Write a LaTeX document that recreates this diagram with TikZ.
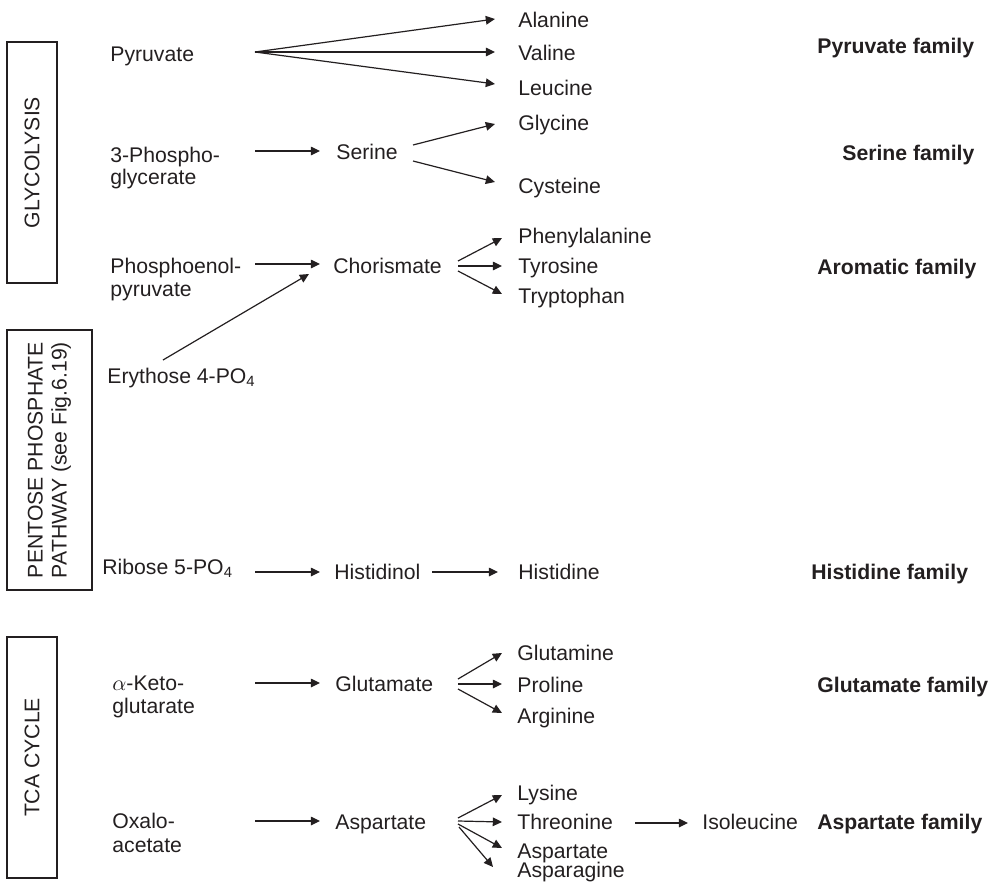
\documentclass[tikz,border=0pt]{standalone}
\usepackage{fontspec}
\setmainfont{Liberation Sans}
\usetikzlibrary{arrows.meta}
\definecolor{ink}{RGB}{35,31,32}
\begin{document}
\begin{tikzpicture}[x=0.5pt,y=-0.5pt,
  lbl/.style={anchor=base west, inner sep=0pt, font=\fontsize{10.6}{12}\selectfont, text=ink},
  fam/.style={anchor=base west, inner sep=0pt, font=\fontsize{10.6}{12}\selectfont\bfseries, text=ink},
  sidebox/.style={draw=ink, line width=0.6pt, inner sep=0pt, rotate=90, align=center,
    font=\fontsize{10.6}{12}\selectfont, text=ink},
  arr/.style={draw=ink, line width=0.6pt, -{Triangle[length=4.6pt,width=4.3pt]}}]
\useasboundingbox (0,0) rectangle (998,889);

% side boxes
\node[sidebox, minimum width=120.5pt, minimum height=25pt] (glyB) at (32,162.5) {GLYCOLYSIS};
\node[sidebox, minimum width=130pt, minimum height=42.5pt] (ppB) at (49.5,460) {PENTOSE PHOSPHATE\\PATHWAY (see Fig.6.19)};
\node[sidebox, minimum width=120.5pt, minimum height=25pt] (tcaB) at (32,757.5) {TCA CYCLE};

% precursors
\node[lbl] (pyr) at (110,61) {Pyruvate};
\node[lbl] (pgA) at (110,162) {3-Phospho-};
\node[lbl] (pgB) at (110,184) {glycerate};
\node[lbl] (pepA) at (110,273) {Phosphoenol-};
\node[lbl] (pepB) at (110,296) {pyruvate};
\node[lbl] (ery) at (107,383) {Erythose 4-PO\textsubscript{4}};
\node[lbl] (rib) at (102,574) {Ribose 5-PO\textsubscript{4}};
\node[lbl] (akgA) at (112,690) {$\alpha$-Keto-};
\node[lbl] (akgB) at (112,713) {glutarate};
\node[lbl] (oxaA) at (112,828) {Oxalo-};
\node[lbl] (oxaB) at (112,852) {acetate};

% intermediates
\node[lbl] (ser) at (336,159) {Serine};
\node[lbl] (cho) at (333,273) {Chorismate};
\node[lbl] (hisol) at (334,579) {Histidinol};
\node[lbl] (glu) at (335,691) {Glutamate};
\node[lbl] (asp) at (335,829) {Aspartate};

% products
\node[lbl] (ala) at (518,27) {Alanine};
\node[lbl] (val) at (518,60) {Valine};
\node[lbl] (leu) at (518,95) {Leucine};
\node[lbl] (gly) at (518,130) {Glycine};
\node[lbl] (cys) at (518,193) {Cysteine};
\node[lbl] (phe) at (518,243) {Phenylalanine};
\node[lbl] (tyr) at (518,273) {Tyrosine};
\node[lbl] (trp) at (518,303) {Tryptophan};
\node[lbl] (his) at (518,579) {Histidine};
\node[lbl] (gln) at (517,660) {Glutamine};
\node[lbl] (pro) at (517,692) {Proline};
\node[lbl] (arg) at (517,723) {Arginine};
\node[lbl] (lys) at (517,800) {Lysine};
\node[lbl] (thr) at (517,829) {Threonine};
\node[lbl] (aspt) at (517,858) {Aspartate};
\node[lbl] (asn) at (517,877) {Asparagine};
\node[lbl] (ile) at (702,829) {Isoleucine};

% families
\node[fam] (pyrF) at (817,53) {Pyruvate family};
\node[fam] (serF) at (842,160) {Serine family};
\node[fam] (aroF) at (817,274) {Aromatic family};
\node[fam] (hisF) at (811,579) {Histidine family};
\node[fam] (gluF) at (817,692) {Glutamate family};
\node[fam] (aspF) at (817,829) {Aspartate family};

% connector end points
\coordinate (pyrO) at (255,52);
\coordinate (alaI) at (495,19);
\coordinate (valI) at (495,52);
\coordinate (leuI) at (495,84);
\coordinate (pgO) at (255,151);
\coordinate (serI) at (320,151);
\coordinate (serOa) at (413,145);
\coordinate (serOb) at (413,161);
\coordinate (glyI) at (495,124);
\coordinate (cysI) at (495,182);
\coordinate (pepO) at (255,264);
\coordinate (choI) at (320,264);
\coordinate (eryO) at (163,360);
\coordinate (choIb) at (309,274);
\coordinate (choOa) at (458,261);
\coordinate (choOb) at (458,266);
\coordinate (choOc) at (458,271);
\coordinate (pheI) at (502,238);
\coordinate (tyrI) at (502,266);
\coordinate (trpI) at (502,294);
\coordinate (ribO) at (255,572);
\coordinate (hisolI) at (320,572);
\coordinate (hisolO) at (432,572);
\coordinate (hisI) at (498,572);
\coordinate (akgO) at (255,683);
\coordinate (gluI) at (320,683);
\coordinate (gluOa) at (458,679);
\coordinate (gluOb) at (458,684);
\coordinate (gluOc) at (458,689);
\coordinate (glnI) at (502,653);
\coordinate (proI) at (502,684);
\coordinate (argI) at (502,713);
\coordinate (oxaO) at (255,821);
\coordinate (aspI) at (320,821);
\coordinate (aspOa) at (458,818);
\coordinate (aspOb) at (458,821);
\coordinate (aspOc) at (458,824);
\coordinate (aspOd) at (459,827);
\coordinate (lysI) at (502,795);
\coordinate (thrI) at (502,822);
\coordinate (asptI) at (502,848);
\coordinate (asnI) at (493,867);
\coordinate (thrO) at (635,823);
\coordinate (ileI) at (688,823);

% connectors
\draw[arr] (pyrO) -- (alaI);
\draw[arr] (pyrO) -- (valI);
\draw[arr] (pyrO) -- (leuI);
\draw[arr] (pgO) -- (serI);
\draw[arr] (serOa) -- (glyI);
\draw[arr] (serOb) -- (cysI);
\draw[arr] (pepO) -- (choI);
\draw[arr] (eryO) -- (choIb);
\draw[arr] (choOa) -- (pheI);
\draw[arr] (choOb) -- (tyrI);
\draw[arr] (choOc) -- (trpI);
\draw[arr] (ribO) -- (hisolI);
\draw[arr] (hisolO) -- (hisI);
\draw[arr] (akgO) -- (gluI);
\draw[arr] (gluOa) -- (glnI);
\draw[arr] (gluOb) -- (proI);
\draw[arr] (gluOc) -- (argI);
\draw[arr] (oxaO) -- (aspI);
\draw[arr] (aspOa) -- (lysI);
\draw[arr] (aspOb) -- (thrI);
\draw[arr] (aspOc) -- (asptI);
\draw[arr] (aspOd) -- (asnI);
\draw[arr] (thrO) -- (ileI);
\end{tikzpicture}
\end{document}
